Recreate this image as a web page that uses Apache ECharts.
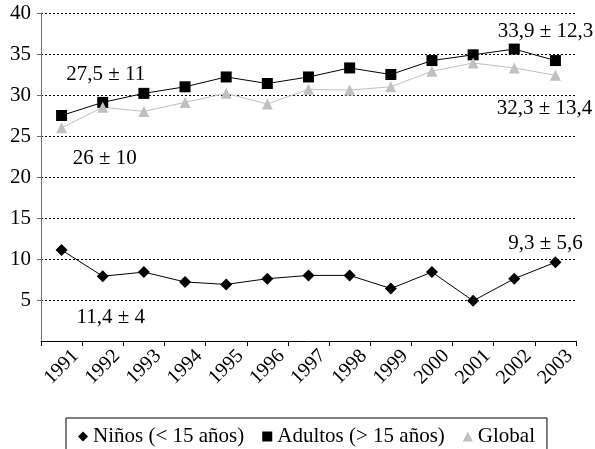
<!DOCTYPE html>
<html>
<head>
<meta charset="utf-8">
<script src="https://cdn.jsdelivr.net/npm/echarts@6/dist/echarts.min.js"></script>
<style>
  html, body { margin: 0; padding: 0; background: #fff; }
  #chart { width: 595px; height: 449px; }
</style>
</head>
<body>
<div id="chart"></div>
<script>
var years = ["1991", "1992", "1993", "1994", "1995", "1996", "1997", "1998", "1999", "2000", "2001", "2002", "2003"];
var ninos = [11.1, 7.9, 8.4, 7.2, 6.9, 7.6, 8.0, 8.0, 6.4, 8.4, 4.9, 7.6, 9.6];
var adultos = [27.5, 29.1, 30.2, 31.0, 32.2, 31.4, 32.2, 33.3, 32.5, 34.2, 34.9, 35.6, 34.2];
var global = [26.0, 28.5, 28.0, 29.1, 30.2, 28.9, 30.7, 30.6, 31.0, 32.9, 33.9, 33.3, 32.4];
var seriesNames = ["Niños (< 15 años)", "Adultos (> 15 años)", "Global"];

// textos de media ± desviación
var ninosNotes = ["11,4 ± 4", "9,3 ± 5,6"];
var adultosNotes = ["27,5 ± 11", "33,9 ± 12,3"];
var globalNotes = ["26 ± 10", "32,3 ± 13,4"];

var font = "Liberation Serif";

function note(text, cat, val, dx) {
  return {
    coord: [cat, val],
    symbol: "circle",
    symbolSize: 1,
    itemStyle: { color: "transparent", borderWidth: 0 },
    label: {
      show: true,
      position: "inside",
      offset: [dx, 0],
      formatter: text,
      color: "#000",
      fontFamily: font,
      fontSize: 21,
    },
  };
}

var chart = echarts.init(document.getElementById("chart"));

var option = {
  animation: false,
  textStyle: { fontFamily: font },
  grid: {
    left: 41,
    right: 19,
    top: 13,
    bottom: 108,
    containLabel: false,
  },
  legend: {
    left: 66,
    top: 418,
    height: 40,
    padding: [8, 12, 14, 12],
    borderColor: "#000",
    borderWidth: 1,
    itemWidth: 10,
    itemHeight: 10,
    itemGap: 18,
    textStyle: {
      color: "#000",
      fontFamily: font,
      fontSize: 21,
    },
    data: [
      { name: seriesNames[0], icon: "diamond", itemStyle: { color: "#000" } },
      { name: seriesNames[1], icon: "rect", itemStyle: { color: "#000" } },
      { name: seriesNames[2], icon: "triangle", itemStyle: { color: "#c0c0c0" } },
    ],
  },
  xAxis: {
    type: "category",
    data: years,
    boundaryGap: true,
    axisLine: {
      show: true,
      lineStyle: { color: "#000", width: 1 },
    },
    axisTick: {
      show: true,
      length: 5,
      interval: 0,
      lineStyle: { color: "#000" },
    },
    axisLabel: {
      interval: 0,
      rotate: 45,
      align: "center",
      verticalAlign: "middle",
      margin: 26,
      color: "#000",
      fontFamily: font,
      fontSize: 20,
    },
    splitLine: { show: false },
  },
  yAxis: {
    type: "value",
    min: 0,
    max: 40,
    interval: 5,
    axisLine: {
      show: true,
      lineStyle: { color: "#707070", width: 1 },
    },
    axisTick: {
      show: true,
      length: 4,
      lineStyle: { color: "#707070" },
    },
    axisLabel: {
      showMinLabel: false,
      margin: 10,
      color: "#000",
      fontFamily: font,
      fontSize: 21,
    },
    splitLine: {
      show: true,
      lineStyle: { color: "#000", width: 1, type: [2, 2] },
    },
  },
  series: [
    {
      name: seriesNames[0],
      type: "line",
      data: ninos,
      symbol: "diamond",
      symbolSize: 12,
      itemStyle: { color: "#000" },
      lineStyle: { color: "#000", width: 1 },
      markPoint: {
        data: [
          note(ninosNotes[0], "1992", 2.9, 8),
          note(ninosNotes[1], "2003", 11.9, -10),
        ],
      },
    },
    {
      name: seriesNames[1],
      type: "line",
      data: adultos,
      symbol: "rect",
      symbolSize: 11,
      itemStyle: { color: "#000" },
      lineStyle: { color: "#000", width: 1 },
      markPoint: {
        data: [
          note(adultosNotes[0], "1992", 32.5, 3),
          note(adultosNotes[1], "2003", 37.8, -10),
        ],
      },
    },
    {
      name: seriesNames[2],
      type: "line",
      data: global,
      symbol: "triangle",
      symbolSize: 11,
      itemStyle: { color: "#c0c0c0" },
      lineStyle: { color: "#c0c0c0", width: 1 },
      markPoint: {
        data: [
          note(globalNotes[0], "1992", 22.3, 2),
          note(globalNotes[1], "2003", 28.4, -11),
        ],
      },
    },
  ],
};

chart.setOption(option);

window.onresize = function () {
  chart.resize();
};
</script>
</body>
</html>
